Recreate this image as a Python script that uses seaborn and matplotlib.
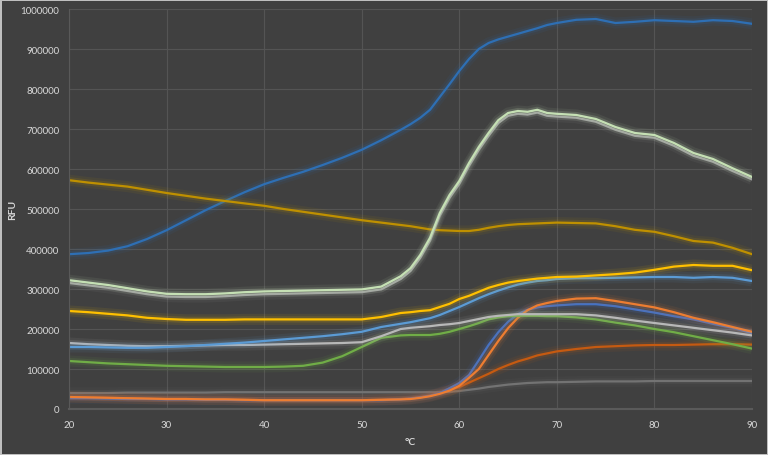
import pandas as pd
import matplotlib
matplotlib.use("Agg")
import matplotlib.pyplot as plt
import seaborn as sns

# ==========================================================
# DATA (RFU, in thousands)
# ==========================================================

temps = [20, 22, 24, 26, 28, 30, 32, 34, 36, 38, 40, 42, 44, 46, 48, 50, 52, 54,
         55, 56, 57, 58, 59, 60, 61, 62, 63, 64, 65, 66, 67, 68, 69, 70,
         72, 74, 76, 78, 80, 82, 84, 86, 88, 90]

dark_blue = [387, 390, 396, 407, 425, 447, 472, 497, 520, 542, 562, 578, 593, 610, 628, 648, 672, 698,
             712, 728, 748, 780, 812, 845, 875, 900, 915, 924, 931, 938, 945, 952, 960, 965,
             973, 975, 965, 968, 972, 970, 968, 972, 970, 963]
light_green = [322, 316, 310, 302, 294, 288, 287, 287, 289, 292, 294, 295, 296, 297, 298, 299, 306, 332,
               352, 385, 428, 490, 535, 570, 615, 655, 690, 722, 740, 745, 743, 748, 740, 738,
               735, 725, 705, 690, 685, 665, 640, 625, 602, 580]
gray_pair = [315, 309, 303, 295, 287, 281, 280, 280, 282, 285, 287, 288, 289, 290, 291, 292, 299, 325,
             345, 378, 421, 483, 528, 563, 608, 648, 683, 715, 733, 738, 736, 741, 733, 731,
             728, 718, 698, 683, 678, 658, 633, 618, 595, 574]
gold = [572, 566, 561, 556, 548, 540, 533, 526, 520, 514, 508, 500, 493, 486, 479, 472, 466, 460,
        457, 453, 449, 447, 446, 445, 445, 448, 453, 457, 460, 462, 463, 464, 465, 466,
        465, 464, 457, 448, 443, 432, 420, 416, 403, 387]
yellow = [245, 242, 238, 234, 228, 225, 223, 223, 223, 224, 224, 224, 224, 224, 224, 224, 230, 240,
          242, 245, 247, 255, 263, 275, 283, 293, 303, 310, 316, 320, 323, 326, 328, 330,
          331, 334, 337, 341, 348, 356, 360, 358, 358, 347]
light_blue = [155, 155, 154, 153, 153, 155, 157, 160, 163, 166, 170, 174, 178, 182, 187, 193, 205, 213,
              217, 222, 227, 235, 245, 255, 266, 277, 287, 296, 304, 311, 316, 320, 322, 325,
              327, 327, 328, 329, 330, 330, 328, 330, 328, 320]
gray_low = [165, 162, 160, 158, 157, 157, 158, 159, 160, 160, 161, 162, 163, 164, 165, 167, 182, 200,
            203, 205, 207, 210, 212, 215, 220, 225, 230, 233, 235, 237, 237, 237, 237, 237,
            237, 234, 228, 221, 215, 209, 203, 197, 191, 184]
green = [120, 117, 114, 112, 110, 108, 107, 106, 105, 105, 105, 106, 108, 116, 132, 155, 178, 184,
         185, 185, 185, 188, 193, 200, 207, 215, 224, 229, 232, 233, 233, 233, 232, 232,
         229, 224, 216, 209, 200, 192, 182, 172, 162, 151]
blue = [27, 27, 26, 25, 25, 24, 24, 23, 23, 22, 22, 22, 22, 22, 22, 22, 22, 24,
        26, 29, 33, 40, 52, 65, 85, 122, 160, 192, 218, 237, 248, 254, 257, 259,
        262, 262, 257, 249, 241, 232, 224, 213, 203, 190]
orange = [30, 29, 28, 27, 26, 25, 25, 24, 24, 23, 22, 22, 22, 22, 22, 22, 23, 24,
          25, 28, 32, 38, 46, 58, 78, 100, 135, 170, 202, 228, 247, 259, 265, 270,
          276, 277, 270, 262, 254, 242, 228, 217, 205, 193]
dark_orange = [30, 29, 28, 27, 26, 25, 25, 24, 24, 23, 22, 22, 22, 22, 22, 22, 23, 25,
               27, 30, 34, 40, 47, 55, 66, 77, 88, 100, 110, 119, 126, 134, 139, 144,
               150, 155, 157, 159, 160, 160, 161, 162, 162, 161]
dark_gray = [40, 40, 40, 41, 41, 41, 41, 41, 42, 42, 42, 42, 42, 42, 42, 42, 42, 42,
             42, 42, 42, 42, 43, 45, 48, 51, 55, 58, 61, 63, 65, 66, 67, 67,
             68, 69, 69, 69, 70, 70, 70, 70, 70, 70]

series = [
    (dark_blue, "#2e6fb4"),
    (gold, "#bf9000"),
    (gray_pair, "#a0a0a0"),
    (light_green, "#c5e0b4"),
    (dark_gray, "#737373"),
    (dark_orange, "#c55a11"),
    (blue, "#4472c4"),
    (orange, "#ed7d31"),
    (green, "#70ad47"),
    (gray_low, "#b8b8b8"),
    (light_blue, "#5b9bd5"),
    (yellow, "#ffc000"),
]

# ==========================================================
# PLOT
# ==========================================================

sns.set_style("dark")
plt.rcParams["font.family"] = ["Lato", "DejaVu Sans"]

bg = "#404040"
fig = plt.figure(figsize=(7.68, 4.56), dpi=100, facecolor=bg,
                 edgecolor="#bfbfbf", linewidth=2)
ax = fig.add_axes([69 / 768, 46 / 456, 683 / 768, 400 / 456])
ax.set_facecolor(bg)

for values, color in series:
    df = pd.DataFrame({"T": temps, "RFU": [v * 1000 for v in values]})
    # soft glow underneath
    sns.lineplot(data=df, x="T", y="RFU", ax=ax, color=color,
                 linewidth=8, alpha=0.08, solid_capstyle="butt")
    sns.lineplot(data=df, x="T", y="RFU", ax=ax, color=color,
                 linewidth=4.5, alpha=0.14, solid_capstyle="butt")
    sns.lineplot(data=df, x="T", y="RFU", ax=ax, color=color, linewidth=1.6)

ax.set_xlim(20, 90)
ax.set_ylim(0, 1000000)
ax.set_xticks(range(20, 91, 10))
ax.set_yticks(range(0, 1000001, 100000))
ax.yaxis.set_major_formatter(matplotlib.ticker.StrMethodFormatter("{x:.0f}"))

ax.grid(True, color="#545454", linewidth=0.8)
ax.tick_params(length=0, colors="#d9d9d9", labelsize=7, pad=7)
ax.tick_params(axis="x", pad=8)
for side in ["top", "right"]:
    ax.spines[side].set_visible(False)
ax.spines["left"].set_color("#595959")
ax.spines["bottom"].set_color("#5a5a5a")
ax.spines["bottom"].set_linewidth(1.5)

ax.set_xlabel("°C", color="#d9d9d9", fontsize=7.5, fontweight="bold")
ax.set_ylabel("RFU", color="#d9d9d9", fontsize=7.5, fontweight="bold")
ax.xaxis.set_label_coords((410 - 69) / 683, -(438 - 410) / 400)
ax.yaxis.set_label_coords((17 - 69) / 683, (410 - 210) / 400)

fig.savefig("out.png", dpi=100, facecolor=bg, edgecolor="#bfbfbf")
